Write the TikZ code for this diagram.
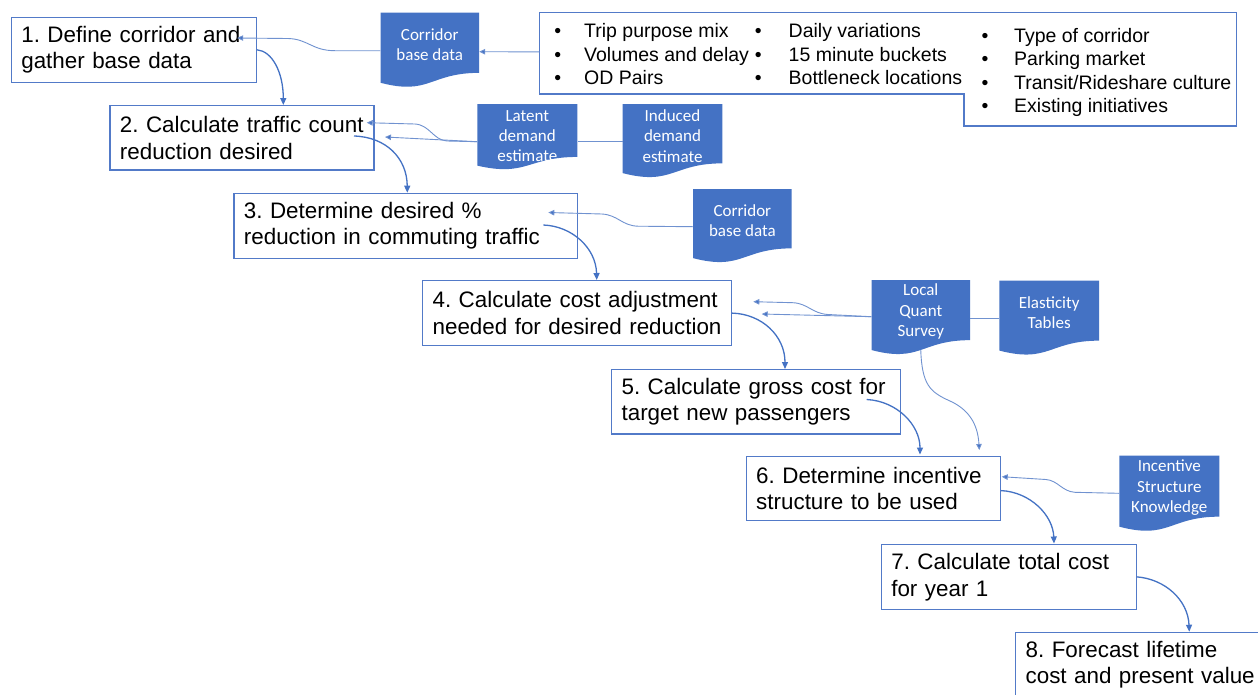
\documentclass[tikz,border=0pt]{standalone}
\usepackage{fontspec}
\setmainfont{Liberation Sans}
\newfontfamily\docfont{Carlito}
\usetikzlibrary{arrows.meta,calc}
\definecolor{ublue}{RGB}{68,114,196}
\definecolor{bord}{RGB}{82,122,200}
\definecolor{thinc}{RGB}{112,146,208}
\newcommand\docpath[4]{%
 \pgfmathsetmacro\dR{#1+#3}%
 \pgfmathsetmacro\dM{#1+0.5*#3}%
 \pgfmathsetmacro\dA{#2+0.802*#4}%
 \pgfmathsetmacro\dB{#2+1.107*#4}%
 \pgfmathsetmacro\dC{#2+0.934*#4}%
 \fill[ublue] (#1,#2) -- (\dR,#2) -- (\dR,\dA) .. controls (\dM,\dA) and (\dM,\dB) .. (#1,\dC) -- cycle;}
\frenchspacing
\begin{document}
\begin{tikzpicture}[x=1pt,y=-1pt,
 box/.style={draw=bord, line width=1.2pt, anchor=north west, inner xsep=10pt, inner ysep=0pt,
   align=left, font=\fontsize{22.4}{26.7}\selectfont, text=black},
 flow/.style={draw=ublue, line width=1.3pt, -{Triangle[length=7pt,width=6pt]}},
 feed/.style={draw=thinc, line width=0.9pt, -{Triangle[length=6pt,width=5.5pt,fill=ublue]}},
 plainline/.style={draw=thinc, line width=0.9pt},
 doctext/.style={font=\docfont\fontsize{17}{20.2}\selectfont, text=white, align=center, inner sep=0pt},
 info/.style={font=\fontsize{19.5}{23.5}\selectfont, inner sep=0pt, text=black}
]
\fill[white] (0,0) rectangle (1258,694);
\useasboundingbox (0,0) rectangle (1258,694);

% ---------- process boxes ----------
\node[box, minimum width=245pt, minimum height=65pt, text width=225pt] (b1) at (10.7,16.7) {1. Define corridor and\\gather base data};
\node[box, minimum width=264pt, minimum height=64.3pt, text width=244pt] (b2) at (109.3,105) {2. Calculate traffic count\\reduction desired};
\node[box, minimum width=343.4pt, minimum height=64.8pt, text width=323.4pt] (b3) at (233.3,192.7) {3. Determine desired \%\\reduction in commuting traffic};
\node[box, minimum width=309pt, minimum height=65pt, text width=289pt] (b4) at (422,280) {4. Calculate cost adjustment\\needed for desired reduction};
\node[box, minimum width=288.5pt, minimum height=64.3pt, text width=268.5pt] (b5) at (611,369) {5. Calculate gross cost for\\target new passengers};
\node[box, minimum width=254.4pt, minimum height=64pt, text width=234.4pt] (b6) at (745.6,456) {6. Determine incentive\\structure to be used};
\node[box, minimum width=254.8pt, minimum height=65.5pt, text width=234.8pt] (b7) at (880.7,543.5) {7. Calculate total cost\\for year 1};
\node[box, minimum width=262pt, minimum height=65pt, text width=242pt] (b8) at (1015,631.7) {8. Forecast lifetime\\cost and present value};

% ---------- info box ----------
\draw[bord, line width=1.2pt] (539.3,12.7) -- (1236.7,12.7) -- (1236.7,126) -- (964,126) -- (964,94) -- (539.3,94) -- cycle;
\node[inner sep=0pt, minimum width=697.4pt, minimum height=81.3pt, anchor=north west] (info) at (539.3,12.7) {};
\node[info, anchor=base] (u11) at (557.7,37.8) {•};
\node[info, anchor=base] (u12) at (557.7,61.3) {•};
\node[info, anchor=base] (u13) at (557.7,84.8) {•};
\node[info, anchor=base west] (i11) at (584,37.8) {Trip purpose mix};
\node[info, anchor=base west] (i12) at (584,61.3) {Volumes and delay};
\node[info, anchor=base west] (i13) at (584,84.8) {OD Pairs};
\node[info, anchor=base] (u21) at (758.3,37.8) {•};
\node[info, anchor=base] (u22) at (758.3,61.3) {•};
\node[info, anchor=base] (u23) at (758.3,84.8) {•};
\node[info, anchor=base west] (i21) at (788.5,37.8) {Daily variations};
\node[info, anchor=base west] (i22) at (788.5,61.3) {15 minute buckets};
\node[info, anchor=base west] (i23) at (788.5,84.8) {Bottleneck locations};
\node[info, anchor=base] (u31) at (985,42) {•};
\node[info, anchor=base] (u32) at (985,65.5) {•};
\node[info, anchor=base] (u33) at (985,89) {•};
\node[info, anchor=base] (u34) at (985,112.5) {•};
\node[info, anchor=base west] (i31) at (1014,42) {Type of corridor};
\node[info, anchor=base west] (i32) at (1014,65.5) {Parking market};
\node[info, anchor=base west] (i33) at (1014,89) {Transit/Rideshare culture};
\node[info, anchor=base west] (i34) at (1014,112.5) {Existing initiatives};

% ---------- documents ----------
\docpath{380.5}{12.7}{98.5}{75}
\node[doctext, minimum width=98.5pt] (cor1) at (429.75,45) {Corridor\\base data};
\docpath{477.3}{104}{100}{66}
\node[doctext, minimum width=100pt] (lat) at (527.3,136) {Latent\\demand\\estimate};
\docpath{622.7}{104}{99.6}{74}
\node[doctext, minimum width=99.6pt] (ind) at (672.5,136) {Induced\\demand\\estimate};
\docpath{693}{189}{98.7}{74}
\node[doctext, minimum width=98.7pt] (cor2) at (742.35,221) {Corridor\\base data};
\docpath{871.5}{280}{98.5}{75}
\node[doctext, minimum width=98.5pt] (loc) at (920.75,311.5) {Local\\Quant\\Survey};
\docpath{999.3}{280.5}{99.7}{75}
\node[doctext, minimum width=99.7pt] (ela) at (1049.15,312.7) {Elasticity\\Tables};
\docpath{1119.3}{455.7}{100}{76}
\node[doctext, minimum width=100pt] (inc) at (1169.3,487.7) {Incentive\\Structure\\Knowledge};

% ---------- feed connectors ----------
\draw[feed] ($(info.west)+(0,-1.65)$) -- ($(cor1.east)+(0,6.7)$);
\draw[feed] ($(cor1.west)+(0,5.7)$) -- (335,50.7) .. controls (312,50.7) and (308,39) .. (288,38.5) -- ($(b1.north west)+(226.5,21.3)$);
\draw[plainline] ($(ind.west)+(0,5.7)$) -- ($(lat.east)+(0,5.7)$);
\draw[feed] ($(lat.west)+(0,5.7)$) -- (447,141) .. controls (433,140) and (430,125) .. (415,124) -- ($(b2.north west)+(257.4,17.7)$);
\draw[feed] ($(lat.west)+(0,5.7)$) -- ($(b2.north west)+(275.7,32)$);
\draw[feed] ($(cor2.west)+(0,5.7)$) -- (638,226.2) .. controls (622,225.8) and (618,215) .. (602,214) -- ($(b3.north west)+(315,19.8)$);
\draw[plainline] ($(loc.east)+(0,6.8)$) -- ($(ela.west)+(0,5.6)$);
\draw[feed] ($(loc.west)+(0,5.2)$) -- (828,314.5) .. controls (812,313.5) and (808,303.5) .. (793,302.7) -- ($(b4.north west)+(331.3,21.7)$);
\draw[feed] ($(loc.west)+(0,5.2)$) -- ($(b4.north west)+(339.7,34)$);
\draw[feed] ($(loc.center)+(0,38.5)$) .. controls (922,385) and (930,392) .. (950,401) .. controls (972,411) and (978,428) .. ($(b6.north west)+(233.7,-6)$);
\draw[feed] ($(inc.west)+(0,5.6)$) -- (1075,492.3) .. controls (1062,491.5) and (1058,480.5) .. (1046,479.5) -- ($(b6.north west)+(256.1,20.7)$);

% ---------- flow connectors ----------
\draw[flow] (b1.east) .. controls (272,51) and (283.3,72) .. ($(b2.north west)+(174,0)$);
\draw[flow] ($(b2.north west)+(244.7,31)$) .. controls (386,137) and (407,158) .. ($(b3.north west)+(174,0)$);
\draw[flow] ($(b3.north west)+(310,32.3)$) .. controls (572,226) and (596,248) .. ($(b4.north west)+(174.7,0)$);
\draw[flow] (b4.east) .. controls (762,314) and (785,336) .. ($(b5.north west)+(174,0)$);
\draw[flow] ($(b5.north west)+(255.7,30.5)$) .. controls (897,401) and (920,425) .. ($(b6.north west)+(174.4,-1.5)$);
\draw[flow] ($(b6.east)+(0,2)$) .. controls (1030,492) and (1053,515) .. ($(b7.north west)+(173.3,0)$);
\draw[flow] (b7.east) .. controls (1165,579) and (1188,600) .. ($(b8.north west)+(174.3,0)$);
\end{tikzpicture}
\end{document}
